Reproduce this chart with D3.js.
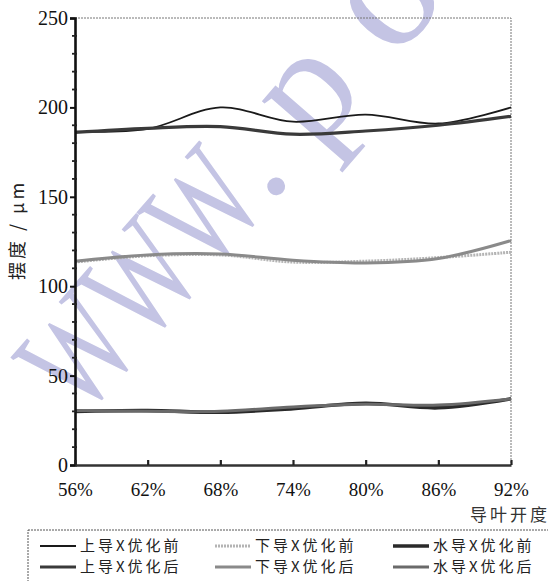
<!DOCTYPE html>
<html>
<head>
<meta charset="utf-8">
<script src="https://cdn.jsdelivr.net/npm/d3@7"></script>
<style>
  body { margin: 0; background: #fff; }
  svg { display: block; }
  .serif { font-family: "Times New Roman", "Liberation Serif", Tinos, "DejaVu Serif", serif; }
  .cjk { font-family: "Noto Sans CJK SC", sans-serif; }
</style>
</head>
<body>
<svg id="chart" width="548" height="581"></svg>
<script>
// data
var categories = ["56%", "62%", "68%", "74%", "80%", "86%", "92%"];
var yTicks = [0, 50, 100, 150, 200, 250];
var upperBefore = [186.5, 188, 200, 192, 196, 191, 200];
var upperAfter = [186, 188.3, 189.2, 185, 186.8, 190, 195];
var lowerBefore = [113.5, 117, 117.5, 113.5, 114, 116, 119];
var lowerAfter = [114, 117.5, 118, 114.5, 113, 115.5, 125.5];
var waterBefore = [30, 30.5, 29.5, 31.5, 34.5, 32, 37];
var waterAfter = [30.5, 30, 30, 32.5, 34, 33.5, 37];
var seriesNames = ["上导X优化前", "上导X优化后", "下导X优化前", "下导X优化后", "水导X优化前", "水导X优化后"];

var series = [
  {name: seriesNames[0], values: upperBefore, color: "#1a1a1a", width: 1.8, dash: null},
  {name: seriesNames[1], values: upperAfter, color: "#3a3a3a", width: 3.2, dash: null},
  {name: seriesNames[2], values: lowerBefore, color: "#b4b4b4", width: 3, dash: "2,1"},
  {name: seriesNames[3], values: lowerAfter, color: "#8a8a8a", width: 3, dash: null},
  {name: seriesNames[4], values: waterBefore, color: "#2a2a2a", width: 3.6, dash: null},
  {name: seriesNames[5], values: waterAfter, color: "#6a6a6a", width: 3, dash: null}
];

var svg = d3.select("#chart");
var plotLeft = 75, plotRight = 511, plotTop = 18, plotBottom = 465;

var x = d3.scalePoint().domain(categories).range([plotLeft, plotRight]);
var y = d3.scaleLinear().domain([0, 250]).range([plotBottom, plotTop]);

// watermark "WWW.po" along the diagonal
var wm = svg.append("g")
  .attr("transform", "translate(82,420) rotate(-49)")
  .attr("fill", "#c4c4e4");
var wmGlyphs = [
  {t: "W", at: 0, size: 145, len: 96},
  {t: "W", at: 96, size: 145, len: 96},
  {t: "W", at: 192, size: 145, len: 96},
  {t: ".", at: 285, size: 150, len: null},
  {t: "p", at: 355, size: 160, len: null},
  {t: "o", at: 475, size: 175, len: null}
];
wm.selectAll("text").data(wmGlyphs).enter().append("text")
  .attr("class", "serif")
  .attr("x", function(g) { return g.at; })
  .attr("font-size", function(g) { return g.size; })
  .attr("textLength", function(g) { return g.len; })
  .attr("lengthAdjust", "spacingAndGlyphs")
  .text(function(g) { return g.t; });

// frame (top and right dashed)
svg.append("path")
  .attr("d", "M" + plotLeft + "," + plotTop + "H" + plotRight + "V" + plotBottom)
  .attr("fill", "none")
  .attr("stroke", "#777")
  .attr("stroke-width", 1)
  .attr("stroke-dasharray", "2,1");

// lines
var line = d3.line()
  .x(function(d, i) { return x(categories[i]); })
  .y(function(d) { return y(d); })
  .curve(d3.curveCatmullRom.alpha(0.5));

svg.selectAll(".series").data(series).enter().append("path")
  .attr("class", "series")
  .attr("d", function(s) { return line(s.values); })
  .attr("fill", "none")
  .attr("stroke", function(s) { return s.color; })
  .attr("stroke-width", function(s) { return s.width; })
  .attr("stroke-dasharray", function(s) { return s.dash; });

// y axis
var yAxis = d3.axisLeft(y).tickValues(yTicks).tickSize(5).tickPadding(2);
var gy = svg.append("g").attr("transform", "translate(" + plotLeft + ",0)").call(yAxis);
gy.attr("font-family", null);
gy.select(".domain").attr("stroke", "#111").attr("stroke-width", 2.6);
gy.selectAll(".tick line").attr("stroke", "#111").attr("stroke-width", 2);
gy.selectAll(".tick text")
  .attr("class", "serif").attr("font-size", 20).attr("fill", "#111");

var minor = d3.range(10, 250, 10).filter(function(v) { return v % 50 != 0; });
svg.append("g").selectAll("line").data(minor).enter().append("line")
  .attr("x1", plotLeft - 3).attr("x2", plotLeft + 2)
  .attr("y1", function(d) { return y(d); })
  .attr("y2", function(d) { return y(d); })
  .attr("stroke", "#222").attr("stroke-width", 1.8);

// x axis
var xAxis = d3.axisBottom(x).tickSize(0).tickPadding(18);
var gx = svg.append("g").attr("transform", "translate(0," + plotBottom + ")").call(xAxis);
gx.attr("font-family", null);
gx.select(".domain").attr("stroke", "#333").attr("stroke-width", 2.6);
gx.selectAll(".tick text")
  .attr("class", "serif").attr("font-size", 19).attr("fill", "#111");
gx.selectAll(".tick").append("line")
  .attr("y1", 0).attr("y2", -5)
  .attr("stroke", "#222").attr("stroke-width", 2.2);

// axis titles
svg.append("text")
  .attr("class", "cjk")
  .attr("x", 550).attr("y", 521)
  .attr("text-anchor", "end")
  .attr("font-size", 17).attr("fill", "#333")
  .attr("letter-spacing", 3)
  .text("导叶开度");

svg.append("text")
  .attr("class", "cjk")
  .attr("transform", "translate(24,230) rotate(-90)")
  .attr("text-anchor", "middle")
  .attr("font-size", 18).attr("fill", "#222")
  .attr("letter-spacing", 3)
  .text("摆度 / μm");

// legend
svg.append("rect")
  .attr("x", 28).attr("y", 530).attr("width", 530).attr("height", 60)
  .attr("fill", "none").attr("stroke", "#555").attr("stroke-width", 1)
  .attr("stroke-dasharray", "2,1");

var colX = [40, 215, 393];
var rowY = [546, 567];
var legend = svg.append("g").selectAll("g").data(series).enter().append("g")
  .attr("transform", function(s, i) {
    return "translate(" + colX[Math.floor(i / 2)] + "," + rowY[i % 2] + ")";
  });
legend.append("line")
  .attr("x1", 0).attr("x2", 36)
  .attr("stroke", function(s) { return s.color; })
  .attr("stroke-width", function(s) { return s.width; })
  .attr("stroke-dasharray", function(s) { return s.dash; });
legend.append("text")
  .attr("class", "cjk")
  .attr("x", 40).attr("dy", "0.35em")
  .attr("font-size", 15).attr("fill", "#222")
  .attr("letter-spacing", 3)
  .text(function(s) { return s.name; });
</script>
</body>
</html>
